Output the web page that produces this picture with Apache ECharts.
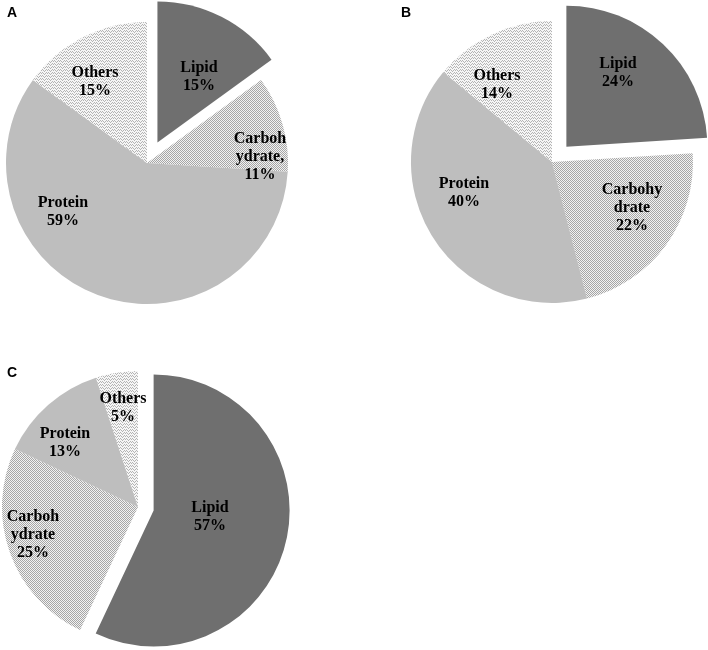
<!DOCTYPE html>
<html>
<head>
<meta charset="utf-8">
<script src="https://cdn.jsdelivr.net/npm/echarts@6/dist/echarts.min.js"></script>
<style>
html,body{margin:0;padding:0;background:#fff;}
#chart{width:708px;height:650px;}
</style>
</head>
<body>
<div id="chart"></div>
<script>
// ---- data ----
const categories = ['Lipid', 'Carbohydrate', 'Protein', 'Others'];
const labelNamesA = ['Lipid', 'Carboh\nydrate,', 'Protein', 'Others'];
const labelNamesB = ['Lipid', 'Carbohy\ndrate', 'Protein', 'Others'];
const labelNamesC = ['Lipid', 'Carboh\nydrate', 'Protein', 'Others'];
const valuesA = [15, 11, 59, 15];
const valuesB = [24, 22, 40, 14];
const valuesC = [57, 25, 13, 5];
const panelLetters = ['A', 'B', 'C'];

// ---- styling ----
function makeChecker() {
  const c = document.createElement('canvas');
  c.width = 4; c.height = 4;
  const g = c.getContext('2d');
  g.fillStyle = '#f2f2f2'; g.fillRect(0, 0, 4, 4);
  g.fillStyle = '#a6a6a6';
  for (let y = 0; y < 4; y++) for (let x = 0; x < 4; x++) if ((x + y) % 2 === 0) g.fillRect(x, y, 1, 1);
  return c;
}
function makeZigzag() {
  const c = document.createElement('canvas');
  c.width = 6; c.height = 6;
  const g = c.getContext('2d');
  g.fillStyle = '#f6f6f6'; g.fillRect(0, 0, 6, 6);
  g.fillStyle = '#b4b4b4';
  const pts = [[0,0],[1,1],[2,2],[3,1],[4,0],[5,1],[0,3],[1,4],[2,5],[3,4],[4,3],[5,4]];
  pts.forEach(p => g.fillRect(p[0], p[1], 1, 1));
  return c;
}
const sliceColors = [
  '#6f6f6f',
  { image: makeChecker(), repeat: 'repeat' },
  '#bebebe',
  { image: makeZigzag(), repeat: 'repeat' }
];

// labelPos: offsets of label centres from the pie centre
const pies = [
  { names: labelNamesA, values: valuesA, center: [147, 163], radius: 141, offset: 23,
    labelPos: [[52, -86], [113, -6], [-84, 49], [-52, -81]] },
  { names: labelNamesB, values: valuesB, center: [552, 162], radius: 141, offset: 21,
    labelPos: [[66, -89], [80, 46], [-88, 31], [-55, -77]] },
  { names: labelNamesC, values: valuesC, center: [138, 507], radius: 136, offset: 16,
    labelPos: [[72, 10], [-105, 28], [-73, -64], [-15, -99]] }
];

// sector series (Lipid exploded)
const sectorSeries = pies.map(p => ({
  type: 'pie',
  center: p.center,
  radius: p.radius,
  startAngle: 90,
  clockwise: true,
  selectedMode: 'single',
  selectedOffset: p.offset,
  silent: true,
  label: { show: false },
  labelLine: { show: false },
  itemStyle: { borderWidth: 0 },
  emphasis: { disabled: true },
  data: categories.map((c, i) => ({
    name: c,
    value: p.values[i],
    selected: i === 0,
    itemStyle: { color: sliceColors[i] }
  }))
}));

// label series (same data, transparent sectors, labels only)
const labelSeries = pies.map(p => ({
  type: 'pie',
  center: p.center,
  radius: p.radius,
  startAngle: 90,
  clockwise: true,
  selectedMode: false,
  avoidLabelOverlap: false,
  silent: true,
  z: 5,
  itemStyle: { color: 'rgba(0,0,0,0)', borderWidth: 0 },
  emphasis: { disabled: true },
  label: {
    show: true,
    position: 'inside',
    fontFamily: 'Liberation Serif',
    fontWeight: 'bold',
    fontSize: 16,
    lineHeight: 18,
    color: '#000',
    align: 'center',
    formatter: (params) => p.names[params.dataIndex] + '\n' + params.value + '%'
  },
  labelLine: { show: false },
  labelLayout: (params) => ({
    x: p.center[0] + p.labelPos[params.dataIndex][0],
    y: p.center[1] + p.labelPos[params.dataIndex][1]
  }),
  data: categories.map((c, i) => ({ name: c, value: p.values[i] }))
}));

const chart = echarts.init(document.getElementById('chart'), null, { renderer: 'canvas' });
chart.setOption({
  animation: false,
  backgroundColor: '#ffffff',
  title: [
    { text: panelLetters[0], left: 7, top: 6 },
    { text: panelLetters[1], left: 401, top: 6 },
    { text: panelLetters[2], left: 7, top: 366 }
  ].map(t => Object.assign(t, {
    padding: 0,
    textStyle: { fontFamily: 'Liberation Sans', fontWeight: 'bold', fontSize: 14, color: '#000' }
  })),
  series: sectorSeries.concat(labelSeries)
});
</script>
</body>
</html>
